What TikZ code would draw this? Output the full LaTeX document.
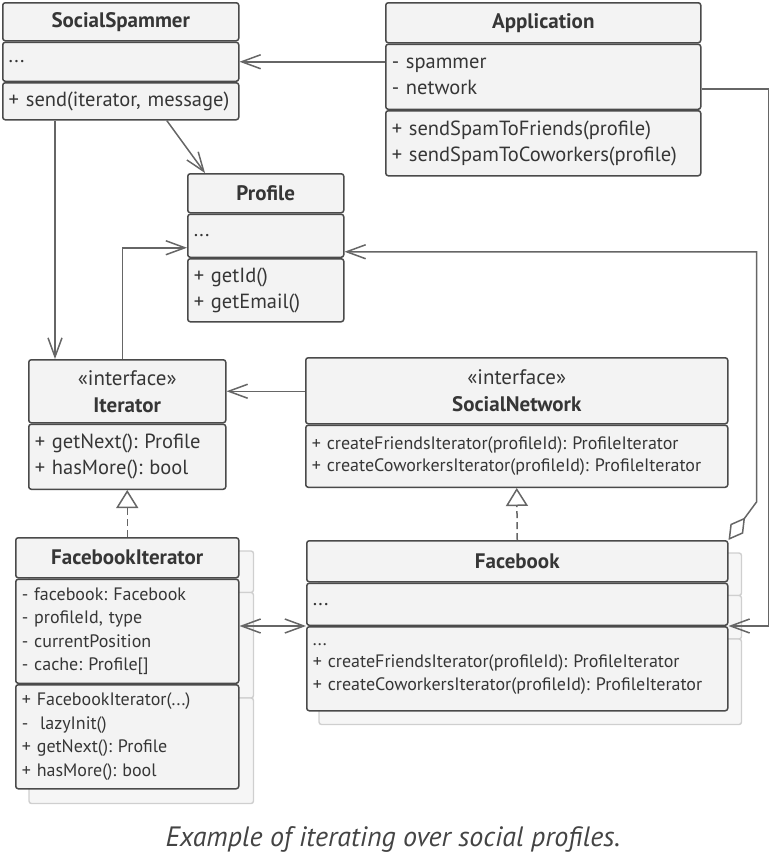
\documentclass[tikz,border=0pt]{standalone}
\usepackage{fontspec}
\setmainfont{PT Sans}
\usepackage{xcolor}
\usetikzlibrary{arrows.meta, positioning, backgrounds}
\frenchspacing

\definecolor{boxline}{HTML}{4A4A4A}
\definecolor{boxfill}{HTML}{F3F3F3}
\definecolor{boxtext}{HTML}{363636}
\definecolor{linegray}{HTML}{666666}
\definecolor{shadowline}{HTML}{CFCFCF}
\definecolor{shadowfill}{HTML}{F6F6F6}
\definecolor{captext}{HTML}{444444}

\begin{document}
\begin{tikzpicture}[x=1pt, y=-1pt]
\tikzstyle{part} = [rectangle, draw=boxline, fill=boxfill, line width=1.5pt, rounded corners=2.5pt, text=boxtext, inner xsep=6pt, inner ysep=0pt]
\tikzstyle{head} = [part, font=\fontsize{21}{27}\selectfont\bfseries, align=center]
\tikzstyle{list} = [part, font=\fontsize{20.5}{26}\selectfont, align=left]
\tikzstyle{small} = [font=\fontsize{18}{22.5}\selectfont]
\tikzstyle{shadowbox} = [draw=shadowline, fill=shadowfill, line width=1.4pt, rounded corners=2.5pt]
\tikzstyle{assoc} = [line width=1.5pt, draw=linegray, -{Straight Barb[length=19pt, width=14pt, line width=1.5pt]}]
\tikzstyle{realize} = [line width=1.5pt, draw=linegray, dash pattern=on 7pt off 4pt, -{Triangle[length=18pt, width=22pt, fill=white, line width=1.5pt, sep=0pt]}]

\useasboundingbox (0,0) rectangle (770,865);

% top row
\node (ss) [head, minimum width=236, minimum height=38, anchor=north west] at (2,2) {SocialSpammer};
\node (ss-a) [list, text width=224, minimum height=39, below=0pt of ss] {...};
\node (ss-m) [list, text width=224, minimum height=37, below=0pt of ss-a] {+ send(iterator, message)};

\node (app) [head, minimum width=315, minimum height=40, anchor=north west] at (385,2) {Application};
\node (app-a) [list, text width=303, minimum height=65, below=0pt of app] {- spammer\\- network};
\node (app-m) [list, text width=303, minimum height=65, below=0pt of app-a] {+ sendSpamToFriends(profile)\\+ sendSpamToCoworkers(profile)};

\node (prof) [head, minimum width=156, minimum height=39, anchor=north west] at (187,173) {Profile};
\node (prof-a) [list, text width=144, minimum height=43, below=0pt of prof] {...};
\node (prof-m) [list, text width=144, minimum height=63, below=0pt of prof-a] {+ getId()\\+ getEmail()};

% interfaces
\node (it) [head, minimum width=197, minimum height=63, anchor=north west] at (28,359) {{\mdseries «interface»}\\Iterator};
\node (it-m) [list, text width=185, minimum height=65, below=0pt of it] {+ getNext(): Profile\\+ hasMore(): bool};

\node (sn) [head, minimum width=422, minimum height=66, anchor=north west] at (305,357) {{\mdseries «interface»}\\SocialNetwork};
\node (sn-m) [list, small, text width=410, minimum height=62, below=0pt of sn] {+ createFriendsIterator(profileId): ProfileIterator\\+ createCoworkersIterator(profileId): ProfileIterator};

% concrete classes
\node (fbi) [head, minimum width=223, minimum height=40, anchor=north west] at (15,537) {FacebookIterator};
\node (fbi-a) [list, font=\fontsize{18}{23.5}\selectfont, text width=211, minimum height=104, below=0pt of fbi] {- facebook: Facebook\\- profileId, type\\- currentPosition\\- cache: Profile[]};
\node (fbi-m) [list, font=\fontsize{18}{23.5}\selectfont, text width=211, minimum height=104, below=0pt of fbi-a] {+ FacebookIterator(...)\\-\ \ lazyInit()\\+ getNext(): Profile\\+ hasMore(): bool};

\node (fb) [head, minimum width=421, minimum height=41, anchor=north west] at (306,540) {Facebook};
\node (fb-a) [list, text width=409, minimum height=42, below=0pt of fb] {...};
\node (fb-m) [list, small, text width=409, minimum height=84, below=0pt of fb-a] {...\\+ createFriendsIterator(profileId): ProfileIterator\\+ createCoworkersIterator(profileId): ProfileIterator};

\begin{scope}[on background layer]
\foreach \p in {fbi, fbi-a, fbi-m}
  \draw[shadowbox] ([shift={(14,14)}]\p.north west) rectangle ([shift={(14,14)}]\p.south east);
\foreach \p in {fb, fb-a, fb-m}
  \draw[shadowbox] ([shift={(13,13)}]\p.north west) rectangle ([shift={(13,13)}]\p.south east);
\end{scope}

\coordinate (it-in) at ([xshift=27pt]it.north west);
\coordinate (it-out) at ([xshift=-5pt]it.north);

\draw [assoc] (app-a.west |- ss-a.east) -- (ss-a.east);
\draw [assoc] ([xshift=46pt]ss-m.south) -- ([xshift=18pt]prof.north west);
\draw [assoc] (it-in |- ss-m.south) -- (it-in);
\draw [assoc] (it-out) |- ([yshift=-12pt]prof-a.west);
\draw [assoc] (sn.west |- it.east) -- (it.east);
\draw [assoc, {Straight Barb[length=19pt, width=14pt, line width=1.5pt]}-{Straight Barb[length=19pt, width=14pt, line width=1.5pt]}] (fbi-a.east |- fb-m.north west) -- (fb-m.north west);
\draw [assoc] ([yshift=-12pt]app-a.east) -- ++(67,0) |- (fb-m.north east);
\draw [assoc, {Diamond[length=28pt, width=16pt, fill=white, line width=1.5pt]}-{Straight Barb[length=19pt, width=14pt, line width=1.5pt]}] (fb.north east) -- ++(28,-38) |- ([yshift=-16pt]prof-a.east);
\draw [realize] (fbi.north) -- (it-m.south);
\draw [realize] (fb.north) -- (sn-m.south);

\node (cap) [font=\fontsize{28}{32}\selectfont\itshape, text=captext] at (393,839) {Example of iterating over social profiles.};

\end{tikzpicture}
\end{document}
